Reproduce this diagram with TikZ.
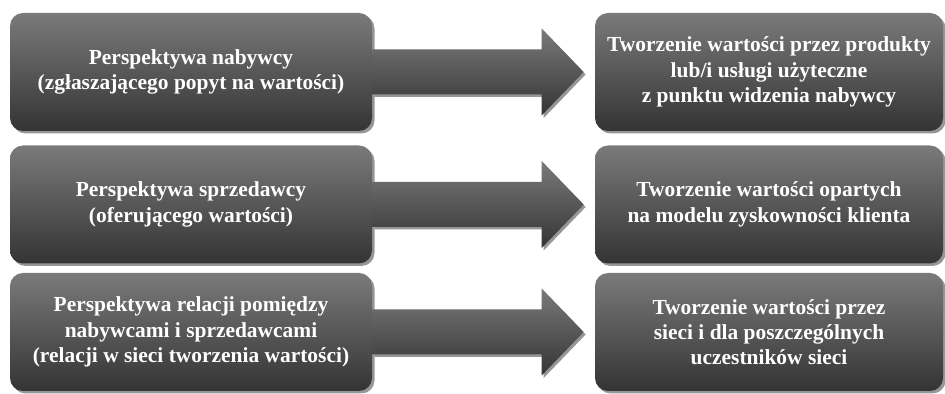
\documentclass[tikz,border=0pt]{standalone}
\usepackage{fontspec}
\setmainfont{Liberation Serif}
\usetikzlibrary{calc,shadows}
\definecolor{boxtop}{RGB}{122,122,122}
\definecolor{boxbottom}{RGB}{52,52,52}
\definecolor{shadowgray}{RGB}{150,150,150}

\begin{document}
\begin{tikzpicture}[
    box/.style={rounded corners=0.26cm,minimum height=2.36cm,align=center,
      font=\bfseries\fontsize{12.2}{14.4}\selectfont,text=white,
      top color=boxtop,bottom color=boxbottom,
      drop shadow={shadow xshift=0.05cm,shadow yshift=-0.05cm,fill=shadowgray,opacity=1}},
    lbox/.style={box,minimum width=7.24cm},
    rbox/.style={box,minimum width=6.96cm},
    blockarr/.style={top color=boxtop,bottom color=boxbottom,
      drop shadow={shadow xshift=0.04cm,shadow yshift=-0.05cm,fill=shadowgray,opacity=1}}
]
\useasboundingbox (0,0) rectangle (18.9,7.88);
% boxes
\node[lbox] (buyer) at (3.82,6.44) {Perspektywa nabywcy\\(zgłaszającego popyt na wartości)};
\node[rbox] (usefulvalue) at (15.38,6.44) {Tworzenie wartości przez produkty\\lub/i usługi użyteczne\\z punktu widzenia nabywcy};
\node[lbox] (seller) at (3.82,3.79) {Perspektywa sprzedawcy\\(oferującego wartości)};
\node[rbox] (profitvalue) at (15.38,3.79) {Tworzenie wartości opartych\\na modelu zyskowności klienta};
\node[lbox] (relation) at (3.82,1.24) {Perspektywa relacji pomiędzy\\nabywcami i sprzedawcami\\(relacji w sieci tworzenia wartości)};
\node[rbox] (networkvalue) at (15.38,1.24) {Tworzenie wartości przez\\sieci i dla poszczególnych\\uczestników sieci};
% block arrows
\path[blockarr] ($(buyer.east)+(0,0.45)$) -- ($(usefulvalue.west)+(-1.06,0.45)$)
  -- ($(usefulvalue.west)+(-1.06,0.87)$) -- ($(usefulvalue.west)+(-0.22,0)$)
  -- ($(usefulvalue.west)+(-1.06,-0.87)$) -- ($(usefulvalue.west)+(-1.06,-0.45)$)
  -- ($(buyer.east)+(0,-0.45)$) -- cycle;
\path[blockarr] ($(seller.east)+(0,0.45)$) -- ($(profitvalue.west)+(-1.06,0.45)$)
  -- ($(profitvalue.west)+(-1.06,0.87)$) -- ($(profitvalue.west)+(-0.22,0)$)
  -- ($(profitvalue.west)+(-1.06,-0.87)$) -- ($(profitvalue.west)+(-1.06,-0.45)$)
  -- ($(seller.east)+(0,-0.45)$) -- cycle;
\path[blockarr] ($(relation.east)+(0,0.45)$) -- ($(networkvalue.west)+(-1.06,0.45)$)
  -- ($(networkvalue.west)+(-1.06,0.87)$) -- ($(networkvalue.west)+(-0.22,0)$)
  -- ($(networkvalue.west)+(-1.06,-0.87)$) -- ($(networkvalue.west)+(-1.06,-0.45)$)
  -- ($(relation.east)+(0,-0.45)$) -- cycle;
\end{tikzpicture}
\end{document}
